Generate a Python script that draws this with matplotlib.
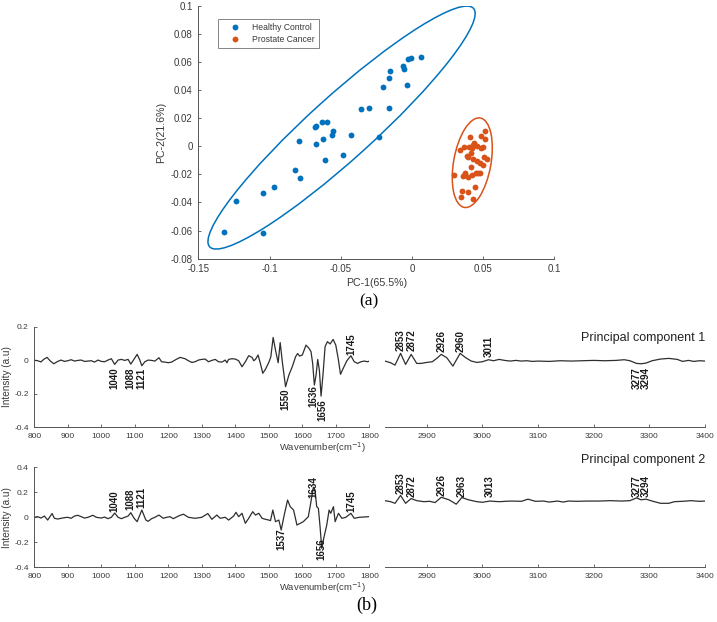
import numpy as np
import matplotlib
matplotlib.use("Agg")
import matplotlib.pyplot as plt
from matplotlib.patches import Ellipse

plt.rcParams['font.family'] = ['Liberation Sans', 'DejaVu Sans']

# ---------------- data: PCA scores ----------------
hc_pc1 = [-0.1318, -0.1238, -0.1044, -0.1046, -0.0971, -0.0824, -0.0789, -0.0796,
          -0.0674, -0.0677, -0.0674, -0.0632, -0.0599, -0.0625, -0.0611, -0.0564,
          -0.0552, -0.0482, -0.0431, -0.0360, -0.0302, -0.0232, -0.0162, -0.0201,
          -0.0164, -0.0152, -0.0066, -0.0052, -0.0037, -0.0028, -0.0009, 0.0063]
hc_pc2 = [-0.0610, -0.0392, -0.0615, -0.0335, -0.0288, -0.0167, -0.0224, 0.0035,
          0.0144, 0.0137, 0.0016, 0.0172, 0.0170, 0.0054, -0.0096, 0.0082,
          0.0111, -0.0060, 0.0082, 0.0265, 0.0274, 0.0066, 0.0270, 0.0419,
          0.0485, 0.0537, 0.0570, 0.0553, 0.0437, 0.0618, 0.0630, 0.0632]
pc_pc1 = [0.0295, 0.0337, 0.0344, 0.0351, 0.0365, 0.0372, 0.0384, 0.0391, 0.0396,
          0.0403, 0.0407, 0.0412, 0.0414, 0.0421, 0.0426, 0.0431, 0.0438, 0.0442,
          0.0431, 0.0449, 0.0454, 0.0459, 0.0466, 0.0478, 0.0482, 0.0487, 0.0496,
          0.0501, 0.0508, 0.0513, 0.0515, 0.0524, 0.0478, 0.0419, 0.0396, 0.0360]
pc_pc2 = [-0.0202, -0.0027, -0.0364, -0.0316, -0.0003, -0.0193, -0.0069, -0.0217,
          -0.0323, -0.0003, 0.0068, -0.0046, -0.0145, -0.0013, -0.0089, 0.0009,
          0.0021, -0.0293, -0.0378, -0.0193, -0.0103, 0.0002, -0.0193, -0.0122,
          -0.0015, 0.0073, -0.0008, -0.0136, -0.0074, 0.0049, 0.0108, -0.0093,
          -0.0188, -0.0205, -0.0074, -0.0210]
group_names = ['Healthy Control', 'Prostate Cancer']
# confidence ellipses: centre x, centre y, full width, full height, angle (deg)
hc_ellipse = [-0.0494, 0.0133, 0.2512, 0.0448, 42.5]
pc_ellipse = [0.0424, -0.0117, 0.0646, 0.0262, 80.0]

# ---------------- data: loadings ----------------
pc1_fp_wn = [800, 810, 820, 828, 838, 848, 858, 870, 880, 890, 900, 910, 920, 930, 940,
             950, 960, 970, 980, 990, 1000, 1010, 1020, 1030, 1040, 1050, 1060, 1070,
             1080, 1088, 1096, 1107, 1115, 1121, 1130, 1140, 1150, 1160, 1172, 1180,
             1190, 1200, 1210, 1220, 1235, 1250, 1260, 1270, 1280, 1290, 1300, 1310,
             1320, 1330, 1340, 1350, 1360, 1370, 1375, 1380, 1390, 1400, 1410, 1420,
             1430, 1440, 1450, 1455, 1460, 1468, 1475, 1482, 1490, 1500, 1506, 1513,
             1520, 1528, 1534, 1541, 1550, 1560, 1570, 1580, 1586, 1592, 1600, 1611,
             1620, 1626, 1631, 1636, 1641, 1646, 1651, 1656, 1662, 1668, 1675, 1683,
             1692, 1700, 1708, 1714, 1722, 1733, 1745, 1755, 1765, 1775, 1785, 1795, 1800]
pc1_fp_int = [0.0, -0.003, -0.01, 0.005, 0.017, -0.005, -0.021, -0.007, 0.001, -0.007,
              -0.003, 0.003, -0.005, -0.001, 0.001, -0.007, -0.005, -0.003, -0.011, 0.001,
              -0.007, -0.009, 0.001, 0.009, -0.025, 0.001, 0.005, -0.001, 0.005, -0.023,
              0.001, 0.035, 0.001, -0.033, -0.009, 0.001, -0.001, -0.005, 0.015, -0.009,
              -0.011, -0.015, -0.011, 0.001, 0.017, 0.009, -0.003, -0.013, -0.009, 0.001,
              0.005, 0.007, -0.009, -0.001, 0.005, -0.009, -0.011, 0.001, -0.015, 0.005,
              0.009, 0.007, -0.003, -0.039, -0.009, 0.027, 0.017, -0.003, 0.005, 0.031,
              -0.02, -0.078, -0.054, -0.013, 0.02, 0.136, 0.06, -0.015, 0.105, -0.02,
              -0.158, -0.088, -0.039, 0.021, 0.04, 0.025, 0.031, 0.09, 0.071, 0.051,
              -0.02, -0.148, -0.09, 0.005, -0.06, -0.214, -0.08, 0.081, 0.111, 0.097,
              0.124, 0.09, 0.0, -0.084, -0.049, -0.003, 0.027, -0.009, -0.019, -0.009,
              -0.005, -0.009, -0.005]
pc1_hw_wn = [2825, 2835, 2843, 2853, 2862, 2872, 2882, 2890, 2900, 2910, 2918, 2926, 2936,
             2947, 2960, 2970, 2980, 2990, 3000, 3011, 3020, 3030, 3040, 3050, 3060, 3070,
             3080, 3090, 3100, 3120, 3140, 3160, 3180, 3200, 3220, 3240, 3255, 3265, 3277,
             3285, 3294, 3305, 3320, 3335, 3350, 3360, 3370, 3380, 3390, 3400]
pc1_hw_int = [-0.005, -0.015, -0.029, 0.041, -0.025, 0.035, -0.019, -0.019, -0.013, -0.009,
              0.011, 0.035, 0.015, -0.035, 0.041, 0.015, -0.005, -0.013, -0.009, 0.003,
              -0.003, 0.005, -0.001, -0.005, -0.001, -0.005, -0.003, -0.007, -0.005, -0.007,
              -0.003, -0.005, -0.003, -0.001, -0.003, -0.001, 0.003, -0.003, -0.019, -0.021,
              -0.017, -0.003, 0.007, 0.011, 0.005, -0.007, -0.001, -0.007, -0.003, -0.005]
pc2_fp_wn = [800, 810, 820, 830, 840, 853, 860, 870, 880, 890, 900, 910, 920, 930, 940, 950,
             960, 975, 985, 1000, 1010, 1020, 1030, 1040, 1050, 1060, 1070, 1080, 1088, 1098,
             1107, 1121, 1133, 1140, 1150, 1160, 1172, 1185, 1195, 1205, 1215, 1230, 1245,
             1260, 1280, 1300, 1318, 1330, 1345, 1355, 1370, 1380, 1395, 1402, 1410, 1420,
             1430, 1440, 1452, 1460, 1470, 1480, 1490, 1500, 1505, 1512, 1520, 1530, 1537,
             1545, 1556, 1564, 1574, 1584, 1603, 1618, 1625, 1633, 1638, 1643, 1648, 1653,
             1658, 1665, 1673, 1680, 1685, 1693, 1698, 1708, 1718, 1730, 1745, 1755, 1770, 1800]
pc2_fp_int = [0.0, 0.005, -0.006, 0.01, -0.022, 0.03, -0.008, -0.014, -0.008, -0.003, 0.0,
              -0.008, 0.01, 0.016, 0.005, -0.006, 0.0, 0.016, 0.0, -0.006, 0.002, -0.011, 0.0,
              0.034, 0.0, -0.011, 0.0, 0.01, 0.037, -0.008, -0.035, 0.058, -0.022, -0.032,
              -0.011, 0.0, 0.018, -0.008, 0.0, 0.005, -0.011, 0.01, 0.025, 0.0, -0.008, 0.0,
              0.03, -0.016, 0.018, -0.008, 0.0, -0.022, 0.01, 0.04, 0.005, 0.032, -0.048,
              -0.008, 0.045, 0.018, 0.032, -0.008, -0.016, -0.022, -0.027, 0.058, -0.035,
              -0.022, -0.102, 0.005, 0.138, 0.085, 0.058, -0.062, -0.035, 0.005, 0.112, 0.24,
              0.218, 0.085, 0.072, -0.075, -0.248, -0.155, -0.062, 0.058, 0.032, 0.085,
              -0.035, 0.032, -0.008, 0.0, 0.032, -0.008, 0.0, 0.005]
pc2_hw_wn = [2825, 2835, 2843, 2853, 2862, 2872, 2882, 2895, 2905, 2915, 2926, 2940, 2953,
             2963, 2975, 2990, 3000, 3013, 3030, 3050, 3070, 3082, 3095, 3110, 3120, 3135,
             3145, 3155, 3170, 3190, 3210, 3230, 3250, 3265, 3277, 3285, 3294, 3305, 3320,
             3335, 3345, 3360, 3375, 3390, 3400]
pc2_hw_int = [0.133, 0.125, 0.112, 0.175, 0.112, 0.15, 0.133, 0.125, 0.128, 0.118, 0.16,
              0.14, 0.105, 0.158, 0.14, 0.125, 0.12, 0.13, 0.125, 0.13, 0.128, 0.145, 0.128,
              0.13, 0.122, 0.13, 0.122, 0.13, 0.128, 0.13, 0.13, 0.133, 0.13, 0.133, 0.155,
              0.14, 0.145, 0.13, 0.112, 0.112, 0.125, 0.128, 0.133, 0.128, 0.13]

# peak labels: text, label position (wavenumber), anchor intensity, side
pc1_fp_peaks = [('1040', 1040, -0.041, 'down'), ('1088', 1088, -0.041, 'down'),
                ('1121', 1121, -0.045, 'down'), ('1550', 1550, -0.166, 'down'),
                ('1636', 1633, -0.148, 'down'), ('1656', 1661, -0.231, 'down'),
                ('1745', 1745, 0.031, 'up')]
pc1_hw_peaks = [('2853', 2853, 0.057, 'up'), ('2872', 2872, 0.057, 'up'),
                ('2926', 2926, 0.05, 'up'), ('2960', 2960, 0.05, 'up'),
                ('3011', 3011, 0.021, 'up'), ('3277', 3277, -0.04, 'down'),
                ('3294', 3294, -0.04, 'down')]
pc2_fp_peaks = [('1040', 1040, 0.045, 'up'), ('1088', 1088, 0.058, 'up'),
                ('1121', 1121, 0.074, 'up'), ('1537', 1537, -0.086, 'down'),
                ('1634', 1634, 0.152, 'up'), ('1656', 1656, -0.166, 'down'),
                ('1745', 1745, 0.045, 'up')]
pc2_hw_peaks = [('2853', 2853, 0.19, 'up'), ('2872', 2872, 0.165, 'up'),
                ('2926', 2926, 0.17, 'up'), ('2963', 2963, 0.165, 'up'),
                ('3013', 3013, 0.165, 'up'), ('3277', 3277, 0.165, 'up'),
                ('3294', 3294, 0.165, 'up')]

fp_ticks = list(range(800, 1801, 100))
hw_ticks = list(range(2900, 3401, 100))

# ---------------- styling ----------------
W, H = 717, 622
AX_C = '#555555'
TXT_C = '#3a3a3a'
BLUE = '#0072BD'
RED = '#D95319'
LINE_C = '#2e2e2e'

fig = plt.figure(figsize=(W / 100, H / 100), dpi=100)


def px_axes(x0, y0, x1, y1):
    return fig.add_axes([x0 / W, 1 - y1 / H, (x1 - x0) / W, (y1 - y0) / H])


def style(ax, left=True, fs=7.0):
    for s in ['top', 'right']:
        ax.spines[s].set_visible(False)
    ax.spines['left'].set_visible(left)
    for s in ['left', 'bottom']:
        ax.spines[s].set_color(AX_C)
        ax.spines[s].set_linewidth(0.7)
    ax.tick_params(direction='in', length=2.5, width=0.6, color=AX_C,
                   labelcolor=TXT_C, labelsize=fs, pad=4)
    ax.patch.set_alpha(0)


# ---- (a) scatter ----
ax = px_axes(198.3, 5.7, 554.3, 258.7)
style(ax)
ax.plot(hc_pc1, hc_pc2, 'o', color=BLUE, ms=4.2, mec='none', label=group_names[0])
ax.plot(pc_pc1, pc_pc2, 'o', color=RED, ms=4.2, mec='none', label=group_names[1])
for e, c in [(hc_ellipse, BLUE), (pc_ellipse, RED)]:
    ax.add_patch(Ellipse((e[0], e[1]), e[2], e[3], angle=e[4], fill=False,
                         edgecolor=c, lw=1.1))
ax.set_xlim(-0.15, 0.1)
ax.set_ylim(-0.08, 0.1)
ax.set_xticks([-0.15, -0.1, -0.05, 0, 0.05, 0.1])
ax.set_xticklabels(['-0.15', '-0.1', '-0.05', '0', '0.05', '0.1'])
ax.set_yticks([-0.08, -0.06, -0.04, -0.02, 0, 0.02, 0.04, 0.06, 0.08, 0.1])
ax.set_yticklabels(['-0.08', '-0.06', '-0.04', '-0.02', '0', '0.02', '0.04', '0.06',
                    '0.08', '0.1'])
ax.set_xlabel('PC-1(65.5%)', fontsize=7.7, color=TXT_C, labelpad=3)
ax.set_ylabel('PC-2(21.6%)', fontsize=7.7, color=TXT_C, labelpad=3)
leg = ax.legend(loc='upper left', bbox_to_anchor=(0.056, 0.947), borderaxespad=0,
                fontsize=6.2, frameon=True, fancybox=False, borderpad=0.5,
                handlelength=2.8, handletextpad=0.6, labelspacing=0.3,
                numpoints=1)
leg.get_frame().set_edgecolor('#666666')
leg.get_frame().set_linewidth(0.7)
for t in leg.get_texts():
    t.set_color(TXT_C)

fig.text(369 / W, 1 - 301.7 / H, '(a)', family='Liberation Serif', fontsize=12.5,
         ha='center', va='center', color='black')

# ---- (b) spectra ----
def spectrum(ax, wn, inten, peaks, xlim, ylim, xticks, yticks=None, left=True):
    style(ax, left=left, fs=6.0)
    ax.plot(wn, inten, color=LINE_C, lw=0.9)
    ax.set_xlim(*xlim)
    ax.set_ylim(*ylim)
    ax.set_xticks(xticks)
    if left:
        ax.set_yticks(yticks)
        ax.set_yticklabels(['0' if v == 0 else f'{v:g}' for v in yticks])
        ax.set_ylabel('Intensity (a.u)', fontsize=7.2, color=TXT_C, va='center')
        ax.yaxis.set_label_coords(-0.082, 0.5)
    else:
        ax.set_yticks([])
    for txt, x, y, side in peaks:
        ax.text(x, y, txt, rotation=90, ha='center',
                va='top' if side == 'down' else 'bottom',
                fontsize=7, fontweight='bold', color='#1a1a1a')


a1 = px_axes(34.3, 326.7, 369.3, 427.3)
spectrum(a1, pc1_fp_wn, pc1_fp_int, pc1_fp_peaks, (800, 1800), (-0.4, 0.2), fp_ticks,
         [-0.4, -0.2, 0, 0.2])
a2 = px_axes(385, 326.7, 705, 427.3)
spectrum(a2, pc1_hw_wn, pc1_hw_int, pc1_hw_peaks, (2825, 3400), (-0.4, 0.2), hw_ticks,
         left=False)
a3 = px_axes(34.3, 467.3, 369.3, 567.3)
spectrum(a3, pc2_fp_wn, pc2_fp_int, pc2_fp_peaks, (800, 1800), (-0.4, 0.4), fp_ticks,
         [-0.4, -0.2, 0, 0.2, 0.4])
a4 = px_axes(385, 467.3, 705, 567.3)
spectrum(a4, pc2_hw_wn, pc2_hw_int, pc2_hw_peaks, (2825, 3400), (-0.4, 0.4), hw_ticks,
         left=False)

for y in (448, 588):
    fig.text(323 / W, 1 - y / H, 'Wavenumber(cm$^{-1}$)', fontsize=6.8, ha='center',
             va='center', color=TXT_C)
fig.text(705 / W, 1 - 338 / H, 'Principal component 1', fontsize=9, ha='right',
         va='center', color='#222222')
fig.text(705 / W, 1 - 460 / H, 'Principal component 2', fontsize=9, ha='right',
         va='center', color='#222222')
fig.text(367 / W, 1 - 605 / H, '(b)', family='Liberation Serif', fontsize=13,
         ha='center', va='center', color='black')

fig.savefig('out.png', dpi=100)
